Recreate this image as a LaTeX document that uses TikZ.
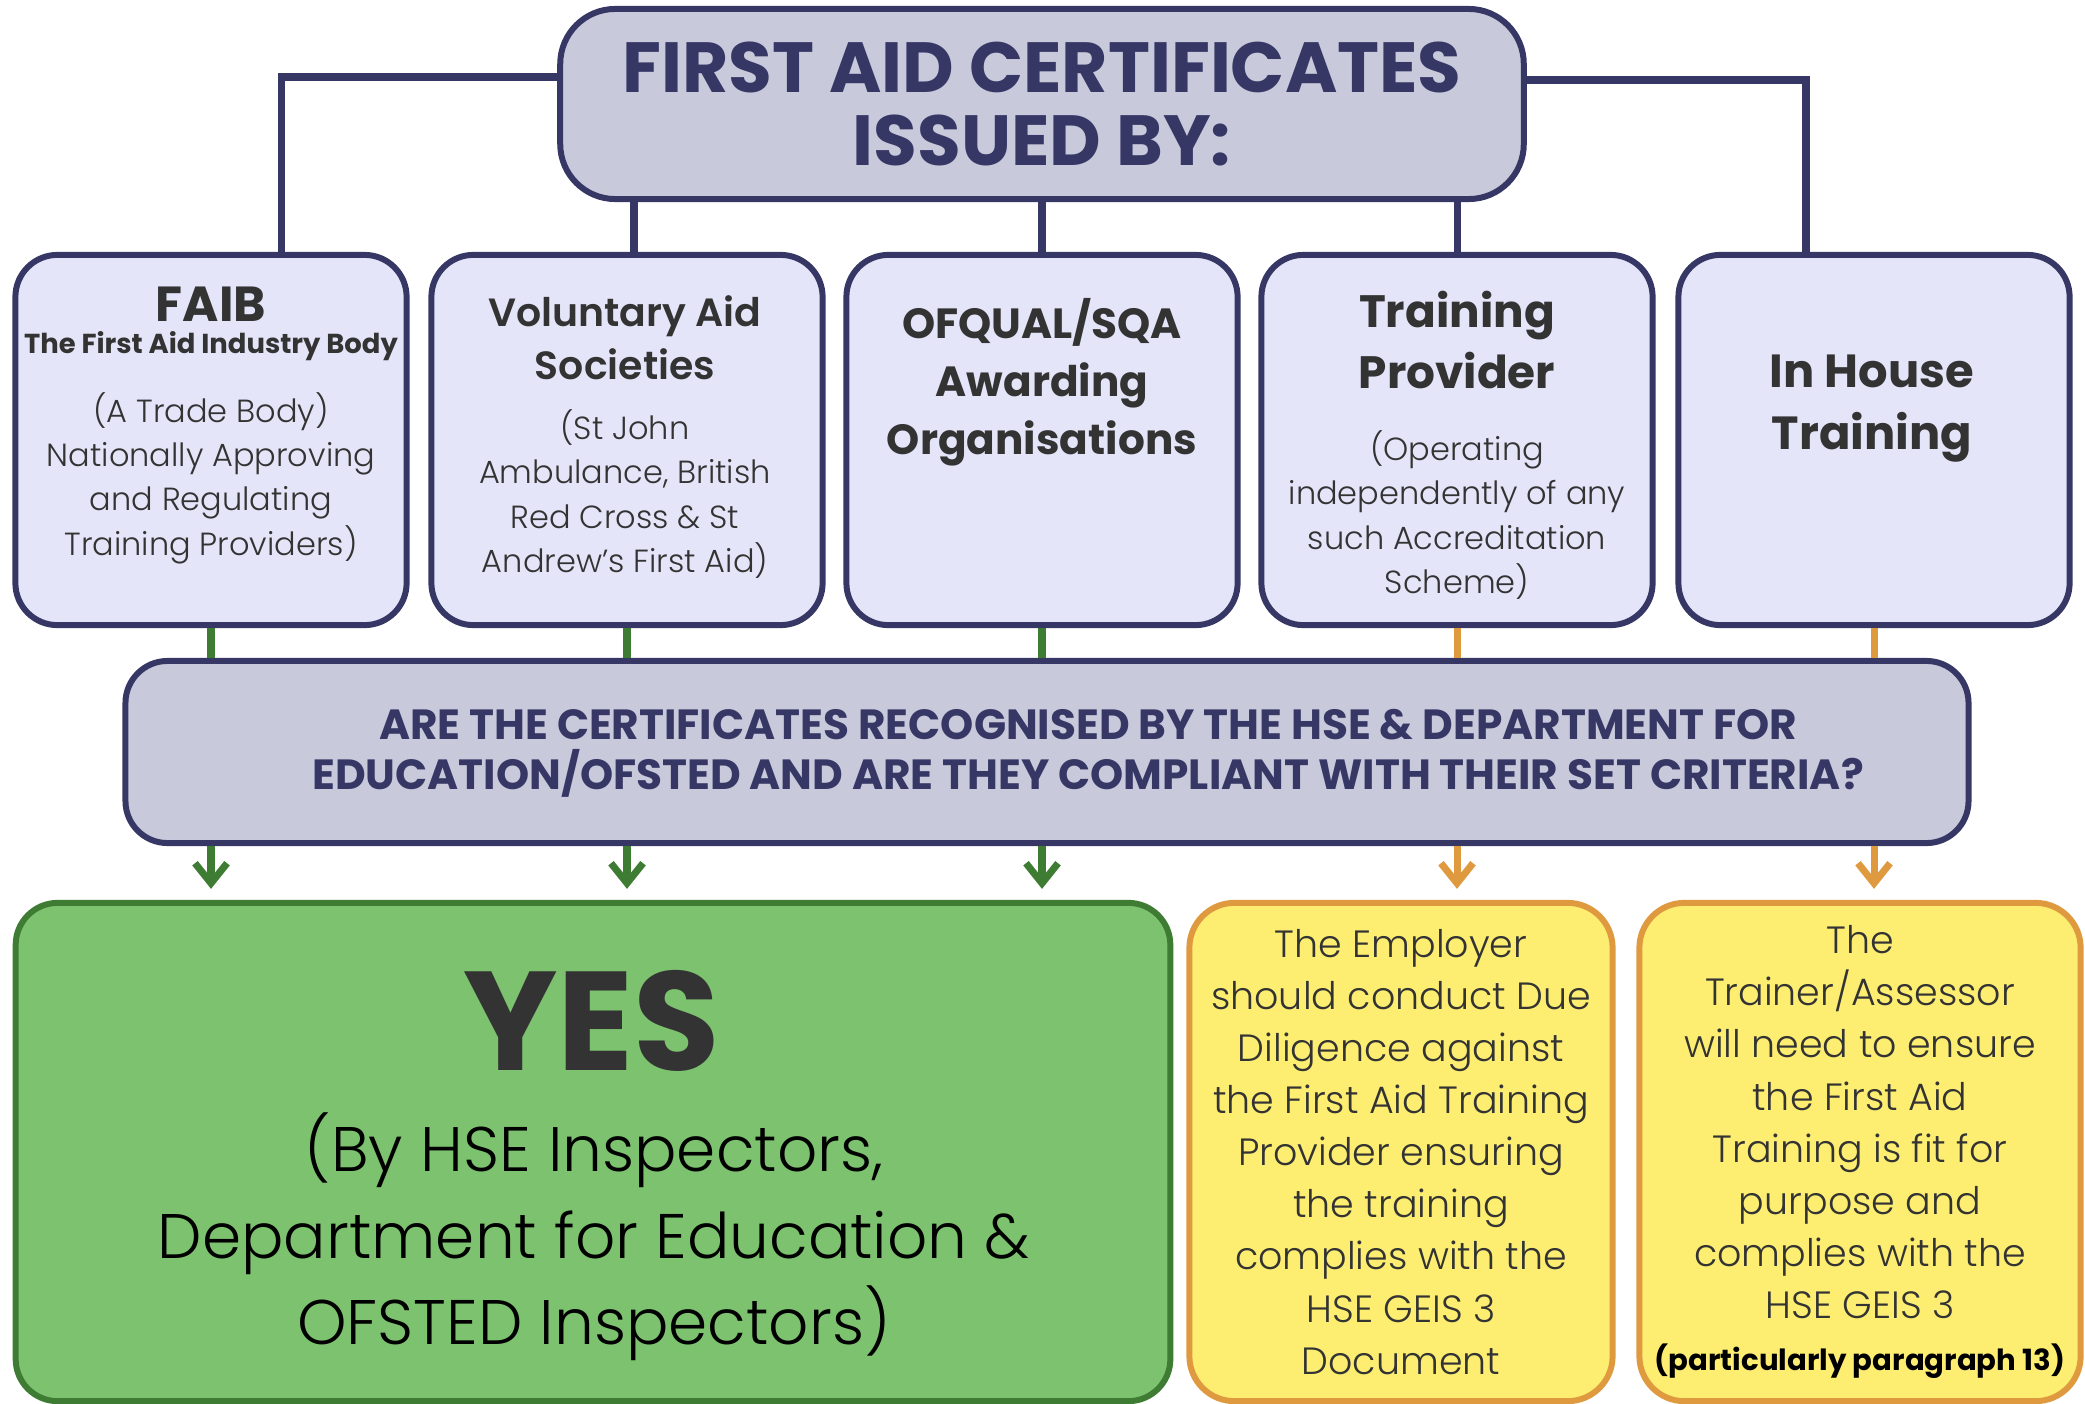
\documentclass[tikz,border=0pt]{standalone}
\usepackage{fontspec}
\setmainfont{Poppins}[UprightFont=* Light, BoldFont=* Bold]
\newfontfamily\semi{Poppins SemiBold}
\usepackage{xcolor}
\usetikzlibrary{positioning,arrows.meta}
\definecolor{navy}{RGB}{55,55,102}
\definecolor{titlefill}{RGB}{200,201,219}
\definecolor{topfill}{RGB}{228,229,248}
\definecolor{textgray}{RGB}{51,51,51}
\definecolor{greenline}{RGB}{62,123,51}
\definecolor{yesfill}{RGB}{125,194,111}
\definecolor{orangeline}{RGB}{223,154,63}
\definecolor{yellowfill}{RGB}{253,238,114}
\newcommand{\fs}[2]{\fontsize{#1}{#2}\selectfont}
\tikzset{
  titlebox/.style={draw=navy, line width=1.7pt, fill=titlefill, rounded corners=0.55cm,
    minimum width=9.63cm, minimum height=1.9cm, align=center, text=navy,
    font=\fs{20.2}{20.8}\bfseries},
  topbox/.style={draw=navy, line width=1.7pt, fill=topfill, rounded corners=0.42cm,
    minimum width=3.91cm, minimum height=3.7cm},
  qbox/.style={draw=navy, line width=1.7pt, fill=titlefill, rounded corners=0.42cm,
    minimum width=18.42cm, minimum height=1.82cm},
  yesbox/.style={draw=greenline, line width=1.7pt, fill=yesfill, rounded corners=0.42cm,
    minimum width=11.54cm, minimum height=4.98cm},
  duebox/.style={draw=orangeline, line width=1.7pt, fill=yellowfill, rounded corners=0.45cm,
    minimum height=4.98cm, inner sep=0pt, align=center, text=textgray, font=\fs{10.8}{14.8}},
  head/.style={align=center, text=textgray, inner sep=0pt},
  body/.style={align=center, text=textgray, inner sep=0pt, font=\fs{9.1}{12.6}},
  link/.style={draw=navy, line width=2pt},
  greenlink/.style={draw=greenline, line width=2pt},
  orangelink/.style={draw=orangeline, line width=2pt},
  tip/.style={-{Straight Barb[length=0.2cm,width=0.32cm]}, shorten >=0.11cm}
}
\begin{document}
\begin{tikzpicture}[x=0.01cm, y=-0.01cm]
\useasboundingbox (0,0) rectangle (2085,1403);
% top of the chart
\node[titlebox] (title) at (1042,104) {FIRST AID CERTIFICATES\\ISSUED BY:};

\node[topbox] (faib) at (211,440) {};
\node[topbox] (vas) at (627,440) {};
\node[topbox] (ofqual) at (1042,440) {};
\node[topbox] (provider) at (1457,440) {};
\node[topbox] (inhouse) at (1874,440) {};

\node[head, font=\fs{14}{16}\bfseries] (faibhead) at (211,304) {FAIB};
\node[head, font=\fs{7.8}{9}\bfseries] (faibsub) at (211,346) {The First Aid Industry Body};
\node[body] (faibbody) at (211,478) {(A Trade Body)\\Nationally Approving\\and Regulating\\Training Providers)};

\node[head, font=\fs{11.2}{15}\semi] (vashead) at (625,338) {Voluntary Aid\\Societies};
\node[body] (vasbody) at (625,494) {(St John\\Ambulance, British\\Red Cross \& St\\Andrew’s First Aid)};

\node[head, font=\fs{12}{16.5}\bfseries] (ofqualhead) at (1042,382) {OFQUAL/SQA\\Awarding\\Organisations};

\node[head, font=\fs{12.9}{17.6}\bfseries] (providerhead) at (1457,340) {Training\\Provider};
\node[body] (providerbody) at (1457,515) {(Operating\\independently of any\\such Accreditation\\Scheme)};

\node[head, font=\fs{13.2}{17.6}\bfseries] (inhousehead) at (1872,409) {In House\\Training};

\draw[link] ([yshift=0.27cm]title.west) -| ([xshift=0.7cm]faib.north);
\draw[link] ([yshift=0.24cm]title.east) -| ([xshift=-0.68cm]inhouse.north);
\draw[link] ([xshift=0.07cm]vas.north |- title.south) -- ([xshift=0.07cm]vas.north);
\draw[link] (ofqual.north |- title.south) -- (ofqual.north);
\draw[link] (provider.north |- title.south) -- (provider.north);

% the question
\node[qbox] (q) at (1047,752) {};
\node[head, text=navy, font=\fs{12}{14.2}\bfseries] (qtext) at (1088,753)
  {ARE THE CERTIFICATES RECOGNISED BY THE HSE \& DEPARTMENT FOR\\
   EDUCATION/OFSTED AND ARE THEY COMPLIANT WITH THEIR SET CRITERIA?};

% answers
\node[yesbox] (yes) at (593,1152) {};
\node[head, font=\fs{40}{44}\bfseries] (yeshead) at (592,1021) {YES};
\node[head, text=black, font=\fs{17.9}{24.6}] (yesbody) at (594,1237)
  {(By HSE Inspectors,\\Department for Education \&\\OFSTED Inspectors)};

\node[duebox, minimum width=4.23cm] (employer) at (1401,1152)
  {The Employer\\should conduct Due\\Diligence against\\the First Aid Training\\Provider ensuring\\the training\\complies with the\\HSE GEIS 3\\Document};
\node[duebox, minimum width=4.41cm] (trainer) at (1860,1152)
  {The\\Trainer/Assessor\\will need to ensure\\the First Aid\\Training is fit for\\purpose and\\complies with the\\HSE GEIS 3\\{\color{black}\bfseries\fs{8.3}{14.8}(particularly paragraph 13)}};

\foreach \b in {faib,vas,ofqual} {
  \draw[greenlink] (\b.south) -- (\b.south |- q.north);
  \draw[greenlink,tip] (\b.south |- q.south) -- (\b.south |- yes.north);
}
\draw[orangelink] (provider.south) -- (provider.south |- q.north);
\draw[orangelink,tip] (provider.south |- q.south) -- (provider.south |- employer.north);
\draw[orangelink] (inhouse.south) -- (inhouse.south |- q.north);
\draw[orangelink,tip] (inhouse.south |- q.south) -- (inhouse.south |- trainer.north);
\end{tikzpicture}
\end{document}
